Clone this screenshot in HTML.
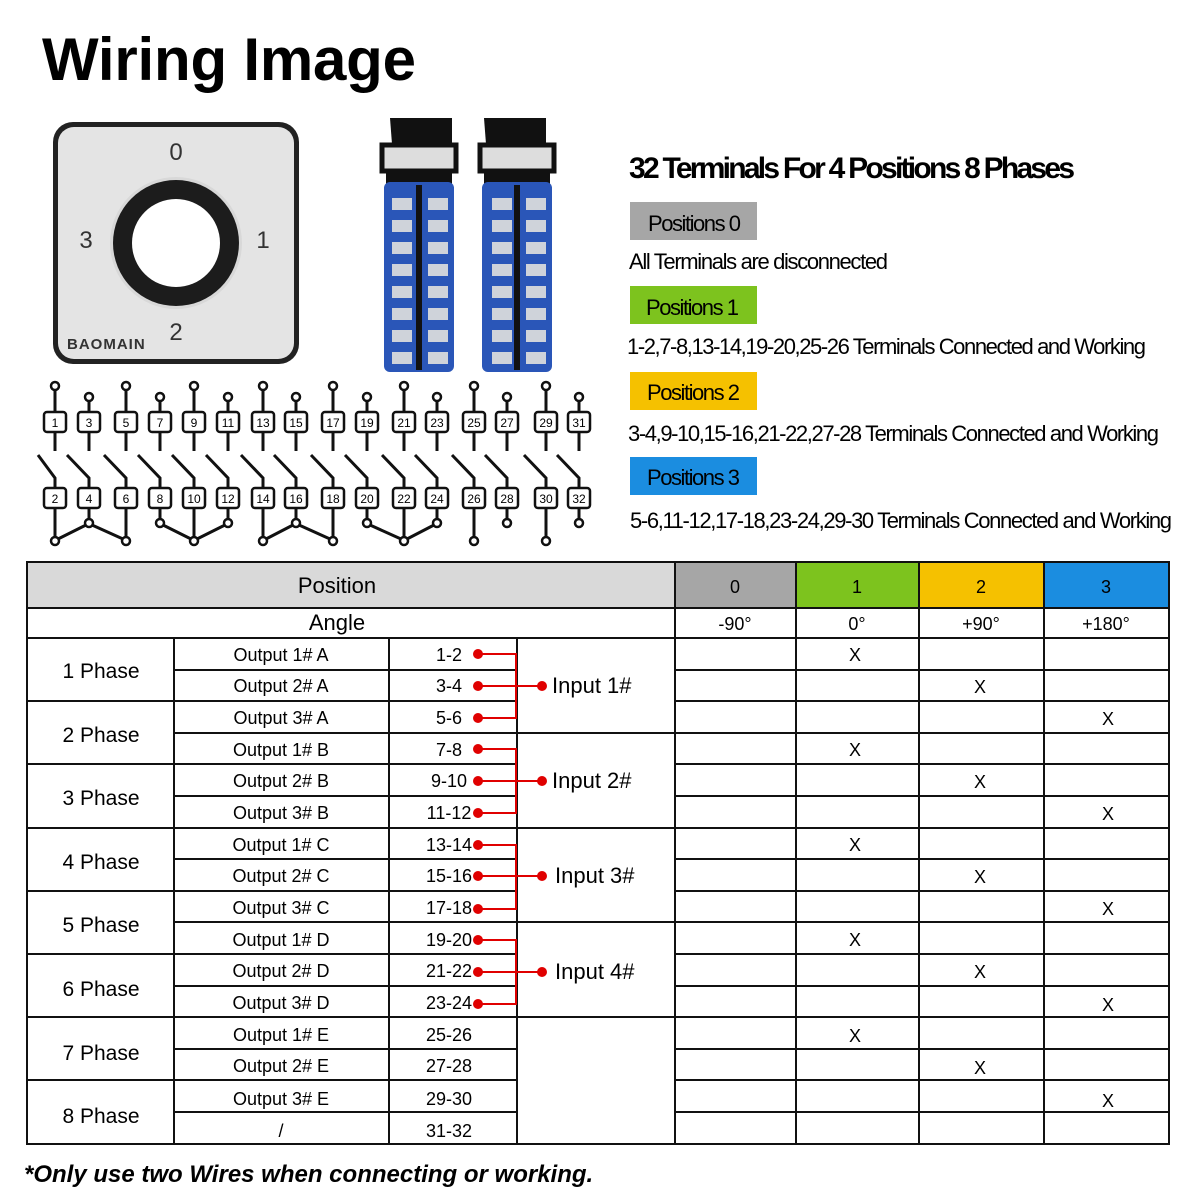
<!DOCTYPE html>
<html><head><meta charset="utf-8"><style>
body{margin:0;background:#fff}
svg{display:block}
.t{font-family:"Liberation Sans",sans-serif}
.n{font-family:"Liberation Sans Narrow","Liberation Sans",sans-serif}
</style></head><body>
<svg width="1200" height="1200" xmlns="http://www.w3.org/2000/svg" class="t">
<text x="42" y="80" font-size="60" font-weight="bold" font-family="Liberation Sans" textLength="374">Wiring Image</text>

<!-- knob plate -->
<rect x="53" y="122" width="246" height="242" rx="20" fill="#222"/>
<rect x="58" y="127" width="236" height="232" rx="16" fill="#e4e4e4"/>
<circle cx="176" cy="243" r="66" fill="#d8d8d8"/>
<circle cx="176" cy="243" r="63" fill="#1c1c1c"/>
<circle cx="176" cy="243" r="44" fill="#fff"/>
<text x="176" y="160" font-size="24" text-anchor="middle" fill="#333" class="n">0</text>
<text x="86" y="248" font-size="24" text-anchor="middle" fill="#333" class="n">3</text>
<text x="263" y="248" font-size="24" text-anchor="middle" fill="#333" class="n">1</text>
<text x="176" y="340" font-size="24" text-anchor="middle" fill="#333" class="n">2</text>
<text x="67" y="349" font-size="15" font-weight="bold" fill="#333" letter-spacing="1">BAOMAIN</text>

<!-- switch bodies -->
<g>
<path d="M390 118h62v26h-60z" fill="#111"/>
<rect x="382" y="145" width="74" height="26" fill="#ddd" stroke="#111" stroke-width="5"/>
<rect x="386" y="170" width="66" height="20" fill="#111"/>
<rect x="384" y="182" width="70" height="190" rx="6" fill="#2a56b8"/>
<rect x="416" y="185" width="6" height="185" fill="#111"/>
<path d="M484 118h62v26h-60z" fill="#111"/>
<rect x="480" y="145" width="74" height="26" fill="#ddd" stroke="#111" stroke-width="5"/>
<rect x="484" y="170" width="66" height="20" fill="#111"/>
<rect x="482" y="182" width="70" height="190" rx="6" fill="#2a56b8"/>
<rect x="514" y="185" width="6" height="185" fill="#111"/>
<g fill="#cfd3da">
<rect x="392" y="198" width="20" height="12"/><rect x="428" y="198" width="20" height="12"/><rect x="492" y="198" width="20" height="12"/><rect x="526" y="198" width="20" height="12"/>
<rect x="392" y="220" width="20" height="12"/><rect x="428" y="220" width="20" height="12"/><rect x="492" y="220" width="20" height="12"/><rect x="526" y="220" width="20" height="12"/>
<rect x="392" y="242" width="20" height="12"/><rect x="428" y="242" width="20" height="12"/><rect x="492" y="242" width="20" height="12"/><rect x="526" y="242" width="20" height="12"/>
<rect x="392" y="264" width="20" height="12"/><rect x="428" y="264" width="20" height="12"/><rect x="492" y="264" width="20" height="12"/><rect x="526" y="264" width="20" height="12"/>
<rect x="392" y="286" width="20" height="12"/><rect x="428" y="286" width="20" height="12"/><rect x="492" y="286" width="20" height="12"/><rect x="526" y="286" width="20" height="12"/>
<rect x="392" y="308" width="20" height="12"/><rect x="428" y="308" width="20" height="12"/><rect x="492" y="308" width="20" height="12"/><rect x="526" y="308" width="20" height="12"/>
<rect x="392" y="330" width="20" height="12"/><rect x="428" y="330" width="20" height="12"/><rect x="492" y="330" width="20" height="12"/><rect x="526" y="330" width="20" height="12"/>
<rect x="392" y="352" width="20" height="12"/><rect x="428" y="352" width="20" height="12"/><rect x="492" y="352" width="20" height="12"/><rect x="526" y="352" width="20" height="12"/>
</g>
</g>

<!-- right side legend -->
<text x="629" y="178" font-size="30" font-weight="bold" class="n" textLength="446">32 Terminals For 4 Positions 8 Phases</text>
<rect x="630" y="202" width="127" height="38" fill="#a6a6a6"/>
<text x="648" y="231" font-size="22" class="n" textLength="93">Positions 0</text>
<text x="629" y="269" font-size="22" class="n" textLength="259">All Terminals are disconnected</text>
<rect x="630" y="286" width="127" height="38" fill="#7dc31e"/>
<text x="646" y="315" font-size="22" class="n" textLength="93">Positions 1</text>
<text x="627" y="354" font-size="22" class="n" textLength="519">1-2,7-8,13-14,19-20,25-26 Terminals Connected and Working</text>
<rect x="630" y="372" width="127" height="38" fill="#f5c100"/>
<text x="647" y="400" font-size="22" class="n" textLength="93">Positions 2</text>
<text x="628" y="441" font-size="22" class="n" textLength="531">3-4,9-10,15-16,21-22,27-28 Terminals Connected and Working</text>
<rect x="630" y="457" width="127" height="38" fill="#1b8de0"/>
<text x="647" y="485" font-size="22" class="n" textLength="93">Positions 3</text>
<text x="630" y="528" font-size="22" class="n" textLength="542">5-6,11-12,17-18,23-24,29-30 Terminals Connected and Working</text>

<!-- terminal diagram -->
<g stroke="#111" stroke-width="3" fill="none">
<path d="M55 390V412M89 401V412M126 390V412M160 401V412M194 390V412M228 401V412M263 390V412M296 401V412M333 390V412M367 401V412M404 390V412M437 401V412M474 390V412M507 401V412M546 390V412M579 401V412"/>
<path d="M55 432V451M89 432V451M126 432V451M160 432V451M194 432V451M228 432V451M263 432V451M296 432V451M333 432V451M367 432V451M404 432V451M437 432V451M474 432V451M507 432V451M546 432V451M579 432V451"/>
<path d="M38 455L55 478V488M67 455L89 478V488M104 455L126 478V488M138 455L160 478V488M172 455L194 478V488M206 455L228 478V488M241 455L263 478V488M274 455L296 478V488M311 455L333 478V488M345 455L367 478V488M382 455L404 478V488M415 455L437 478V488M452 455L474 478V488M485 455L507 478V488M524 455L546 478V488M557 455L579 478V488"/>
<path d="M55 508V537M89 508V519M126 508V537M160 508V519M194 508V537M228 508V519M263 508V537M296 508V519M333 508V537M367 508V519M404 508V537M437 508V519M474 508V537M507 508V519M546 508V537M579 508V519"/>
<path d="M58 539L86 525M92 525L123 539M163 525L191 539M197 539L225 525M266 539L293 525M299 525L330 539M370 525L401 539M407 539L434 525"/>
</g>
<g stroke="#111" stroke-width="2.5" fill="#fff">
<circle cx="55" cy="386" r="4"/><circle cx="89" cy="397" r="4"/><circle cx="126" cy="386" r="4"/><circle cx="160" cy="397" r="4"/><circle cx="194" cy="386" r="4"/><circle cx="228" cy="397" r="4"/><circle cx="263" cy="386" r="4"/><circle cx="296" cy="397" r="4"/><circle cx="333" cy="386" r="4"/><circle cx="367" cy="397" r="4"/><circle cx="404" cy="386" r="4"/><circle cx="437" cy="397" r="4"/><circle cx="474" cy="386" r="4"/><circle cx="507" cy="397" r="4"/><circle cx="546" cy="386" r="4"/><circle cx="579" cy="397" r="4"/>
<circle cx="55" cy="541" r="4"/><circle cx="89" cy="523" r="4"/><circle cx="126" cy="541" r="4"/><circle cx="160" cy="523" r="4"/><circle cx="194" cy="541" r="4"/><circle cx="228" cy="523" r="4"/><circle cx="263" cy="541" r="4"/><circle cx="296" cy="523" r="4"/><circle cx="333" cy="541" r="4"/><circle cx="367" cy="523" r="4"/><circle cx="404" cy="541" r="4"/><circle cx="437" cy="523" r="4"/><circle cx="474" cy="541" r="4"/><circle cx="507" cy="523" r="4"/><circle cx="546" cy="541" r="4"/><circle cx="579" cy="523" r="4"/>
</g>
<g stroke="#111" stroke-width="2.5" fill="#fff">
<rect x="44" y="412" width="22" height="20" rx="3"/><rect x="78" y="412" width="22" height="20" rx="3"/><rect x="115" y="412" width="22" height="20" rx="3"/><rect x="149" y="412" width="22" height="20" rx="3"/><rect x="183" y="412" width="22" height="20" rx="3"/><rect x="217" y="412" width="22" height="20" rx="3"/><rect x="252" y="412" width="22" height="20" rx="3"/><rect x="285" y="412" width="22" height="20" rx="3"/><rect x="322" y="412" width="22" height="20" rx="3"/><rect x="356" y="412" width="22" height="20" rx="3"/><rect x="393" y="412" width="22" height="20" rx="3"/><rect x="426" y="412" width="22" height="20" rx="3"/><rect x="463" y="412" width="22" height="20" rx="3"/><rect x="496" y="412" width="22" height="20" rx="3"/><rect x="535" y="412" width="22" height="20" rx="3"/><rect x="568" y="412" width="22" height="20" rx="3"/>
<rect x="44" y="488" width="22" height="20" rx="3"/><rect x="78" y="488" width="22" height="20" rx="3"/><rect x="115" y="488" width="22" height="20" rx="3"/><rect x="149" y="488" width="22" height="20" rx="3"/><rect x="183" y="488" width="22" height="20" rx="3"/><rect x="217" y="488" width="22" height="20" rx="3"/><rect x="252" y="488" width="22" height="20" rx="3"/><rect x="285" y="488" width="22" height="20" rx="3"/><rect x="322" y="488" width="22" height="20" rx="3"/><rect x="356" y="488" width="22" height="20" rx="3"/><rect x="393" y="488" width="22" height="20" rx="3"/><rect x="426" y="488" width="22" height="20" rx="3"/><rect x="463" y="488" width="22" height="20" rx="3"/><rect x="496" y="488" width="22" height="20" rx="3"/><rect x="535" y="488" width="22" height="20" rx="3"/><rect x="568" y="488" width="22" height="20" rx="3"/>
</g>
<g font-size="12" text-anchor="middle" class="n">
<text x="55" y="427">1</text><text x="89" y="427">3</text><text x="126" y="427">5</text><text x="160" y="427">7</text><text x="194" y="427">9</text><text x="228" y="427">11</text><text x="263" y="427">13</text><text x="296" y="427">15</text><text x="333" y="427">17</text><text x="367" y="427">19</text><text x="404" y="427">21</text><text x="437" y="427">23</text><text x="474" y="427">25</text><text x="507" y="427">27</text><text x="546" y="427">29</text><text x="579" y="427">31</text>
<text x="55" y="503">2</text><text x="89" y="503">4</text><text x="126" y="503">6</text><text x="160" y="503">8</text><text x="194" y="503">10</text><text x="228" y="503">12</text><text x="263" y="503">14</text><text x="296" y="503">16</text><text x="333" y="503">18</text><text x="367" y="503">20</text><text x="404" y="503">22</text><text x="437" y="503">24</text><text x="474" y="503">26</text><text x="507" y="503">28</text><text x="546" y="503">30</text><text x="579" y="503">32</text>
</g>

<!-- table -->
<rect x="27" y="562" width="648" height="46" fill="#d9d9d9"/>
<rect x="675" y="562" width="121" height="46" fill="#a6a6a6"/>
<rect x="796" y="562" width="123" height="46" fill="#7dc31e"/>
<rect x="919" y="562" width="125" height="46" fill="#f5c100"/>
<rect x="1044" y="562" width="125" height="46" fill="#1b8de0"/>
<g stroke="#111" stroke-width="2" fill="none">
<rect x="27" y="562" width="1142" height="582"/>
<path d="M27 608H1169M27 638H1169"/>
<path d="M675 562V1144M796 562V1144M919 562V1144M1044 562V1144"/>
<path d="M174 638V1144M389 638V1144M517 638V1144"/>
<path d="M174 670H517M27 701H517M174 733H675M27 764H517M174 796H517M27 828H675M174 859H517M27 891H517M174 922H675M27 954H517M174 986H517M27 1017H675M174 1049H517M27 1080H517M174 1112H517"/>
<path d="M675 670H1169M675 701H1169M675 733H1169M675 764H1169M675 796H1169M675 828H1169M675 859H1169M675 891H1169M675 922H1169M675 954H1169M675 986H1169M675 1017H1169M675 1049H1169M675 1080H1169M675 1112H1169"/>
</g>
<g font-size="22" text-anchor="middle">
<text x="337" y="593">Position</text>
<text x="735" y="593" font-size="18">0</text><text x="857" y="593" font-size="18">1</text><text x="981" y="593" font-size="18">2</text><text x="1106" y="593" font-size="18">3</text>
<text x="337" y="630">Angle</text>
</g>
<g font-size="18" text-anchor="middle">
<text x="735" y="630">-90°</text><text x="857" y="630">0°</text><text x="981" y="630">+90°</text><text x="1106" y="630">+180°</text>
</g>
<g font-size="21" text-anchor="middle">
<text x="101" y="678">1 Phase</text><text x="101" y="742">2 Phase</text><text x="101" y="805">3 Phase</text><text x="101" y="869">4 Phase</text><text x="101" y="932">5 Phase</text><text x="101" y="996">6 Phase</text><text x="101" y="1060">7 Phase</text><text x="101" y="1123">8 Phase</text>
</g>
<g font-size="18" text-anchor="middle">
<text x="281" y="661">Output 1# A</text><text x="281" y="692">Output 2# A</text><text x="281" y="724">Output 3# A</text>
<text x="281" y="756">Output 1# B</text><text x="281" y="787">Output 2# B</text><text x="281" y="819">Output 3# B</text>
<text x="281" y="851">Output 1# C</text><text x="281" y="882">Output 2# C</text><text x="281" y="914">Output 3# C</text>
<text x="281" y="946">Output 1# D</text><text x="281" y="977">Output 2# D</text><text x="281" y="1009">Output 3# D</text>
<text x="281" y="1041">Output 1# E</text><text x="281" y="1072">Output 2# E</text><text x="281" y="1105">Output 3# E</text>
<text x="281" y="1137">/</text>
<text x="449" y="661">1-2</text><text x="449" y="692">3-4</text><text x="449" y="724">5-6</text>
<text x="449" y="756">7-8</text><text x="449" y="787">9-10</text><text x="449" y="819">11-12</text>
<text x="449" y="851">13-14</text><text x="449" y="882">15-16</text><text x="449" y="914">17-18</text>
<text x="449" y="946">19-20</text><text x="449" y="977">21-22</text><text x="449" y="1009">23-24</text>
<text x="449" y="1041">25-26</text><text x="449" y="1072">27-28</text><text x="449" y="1105">29-30</text>
<text x="449" y="1137">31-32</text>
<text x="855" y="661">X</text><text x="980" y="693">X</text><text x="1108" y="725">X</text>
<text x="855" y="756">X</text><text x="980" y="788">X</text><text x="1108" y="820">X</text>
<text x="855" y="851">X</text><text x="980" y="883">X</text><text x="1108" y="915">X</text>
<text x="855" y="946">X</text><text x="980" y="978">X</text><text x="1108" y="1011">X</text>
<text x="855" y="1042">X</text><text x="980" y="1074">X</text><text x="1108" y="1107">X</text>
</g>
<g stroke="#e00000" stroke-width="2" fill="none">
<path d="M478 654H516V718H478M478 686H542"/>
<path d="M478 749H516V813H478M478 781H542"/>
<path d="M478 845H516V909H478M478 876H542"/>
<path d="M478 940H516V1004H478M478 972H542"/>
</g>
<g fill="#e00000">
<circle cx="478" cy="654" r="5"/><circle cx="478" cy="686" r="5"/><circle cx="478" cy="718" r="5"/><circle cx="542" cy="686" r="5"/>
<circle cx="478" cy="749" r="5"/><circle cx="478" cy="781" r="5"/><circle cx="478" cy="813" r="5"/><circle cx="542" cy="781" r="5"/>
<circle cx="478" cy="845" r="5"/><circle cx="478" cy="876" r="5"/><circle cx="478" cy="909" r="5"/><circle cx="542" cy="876" r="5"/>
<circle cx="478" cy="940" r="5"/><circle cx="478" cy="972" r="5"/><circle cx="478" cy="1004" r="5"/><circle cx="542" cy="972" r="5"/>
</g>
<g font-size="22">
<text x="552" y="693">Input 1#</text><text x="552" y="788">Input 2#</text><text x="555" y="883">Input 3#</text><text x="555" y="979">Input 4#</text>
</g>
<text x="24" y="1182" font-size="24" font-weight="bold" font-style="italic">*Only use two Wires when connecting or working.</text>
</svg>
</body></html>
